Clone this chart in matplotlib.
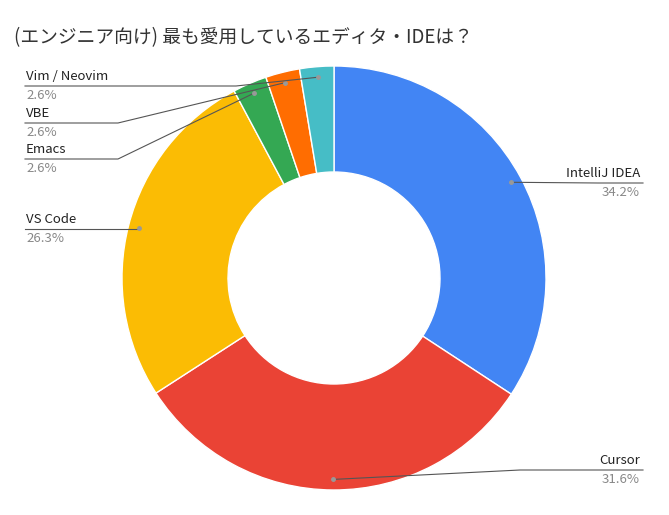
import matplotlib
matplotlib.use("Agg")
import matplotlib.pyplot as plt
import numpy as np

plt.rcParams['font.family'] = ['Noto Sans CJK JP', 'DejaVu Sans']

labels = ["IntelliJ IDEA", "Cursor", "VS Code", "Emacs", "VBE", "Vim / Neovim"]
values = [34.2, 31.6, 26.3, 2.6, 2.6, 2.6]
pct = ["34.2%", "31.6%", "26.3%", "2.6%", "2.6%", "2.6%"]
colors = ["#4285F4", "#EA4335", "#FBBC04", "#34A853", "#FF6D01", "#46BDC6"]

W, H = 669, 515
fig = plt.figure(figsize=(W/100, H/100), dpi=100)
cx, cy, R = 334, 278, 212
ax = fig.add_axes([(cx-R)/W, (H-cy-R)/H, 2*R/W, 2*R/H])
wedges, _ = ax.pie(values, colors=colors, startangle=90, counterclock=False,
                   radius=1, wedgeprops=dict(width=0.5, edgecolor='white', linewidth=1))
ax.set_xlim(-1, 1); ax.set_ylim(-1, 1); ax.set_aspect('equal')
ax.axis('off')

def d(px, py):
    return ((px-cx)/R, (cy-py)/R)

# label specs: (line y px, text x px, align, path x pts)
lay = {
    "IntelliJ IDEA": dict(ly=183, side='r', xe=643, xk=598),
    "Cursor": dict(ly=470, side='r', xe=643, xk=520),
    "VS Code": dict(ly=229, side='l', xe=25, xk=None),
    "Emacs": dict(ly=159, side='l', xe=25, xk=118),
    "VBE": dict(ly=123, side='l', xe=25, xk=118),
    "Vim / Neovim": dict(ly=86, side='l', xe=25, xk=236),
}
for w, lab, p in zip(wedges, labels, pct):
    a = np.deg2rad((w.theta1 + w.theta2) / 2)
    r = 0.95
    dx, dy = r*np.cos(a), r*np.sin(a)
    L = lay[lab]
    ly = (cy - L['ly'])/R
    xe = (L['xe']-cx)/R
    pts = [(dx, dy)]
    if L['xk'] is not None:
        pts.append(((L['xk']-cx)/R, ly))
    else:
        pts.append((dx, ly))
    pts.append((xe, ly))
    xs, ys = zip(*pts)
    ax.plot(xs, ys, color='#555555', lw=0.8, clip_on=False)
    ax.plot([dx], [dy], 'o', ms=2.5, color='#999999', clip_on=False)
    ha = 'right' if L['side'] == 'r' else 'left'
    tx = (L['xe'] - (3 if L['side']=='r' else -1) - cx)/R
    ax.text(tx, ly + 3/R, lab, ha=ha, va='bottom', fontsize=9.5, color='#222222')
    ax.text(tx, ly - 3/R, p, ha=ha, va='top', fontsize=9.5, color='#888888')

fig.text(14/W, 1-38/H, "(エンジニア向け) 最も愛用しているエディタ・IDEは？", fontsize=13.5,
         color='#333333', va='center', ha='left')
fig.savefig("out.png", dpi=100, facecolor='white')
